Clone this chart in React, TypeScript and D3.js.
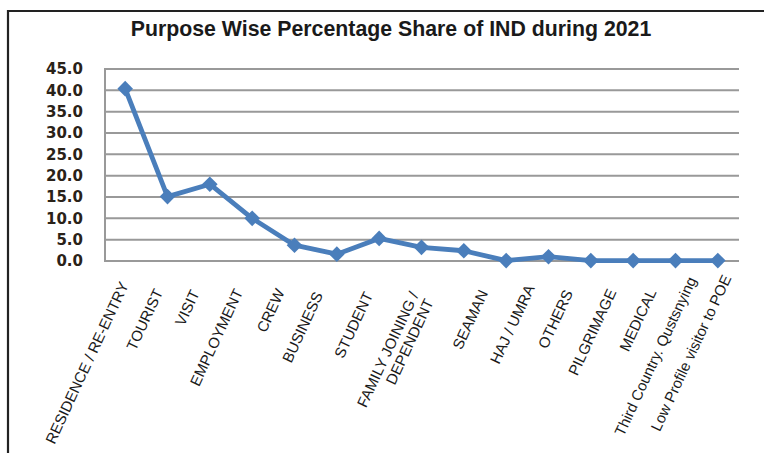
import React from "react";
import * as d3 from "d3";

const title = "Purpose Wise Percentage Share of IND during 2021";
const categories: string[][] = [
  ["RESIDENCE / RE-ENTRY"],
  ["TOURIST"],
  ["VISIT"],
  ["EMPLOYMENT"],
  ["CREW"],
  ["BUSINESS"],
  ["STUDENT"],
  ["FAMILY JOINING /", "DEPENDENT"],
  ["SEAMAN"],
  ["HAJ / UMRA"],
  ["OTHERS"],
  ["PILGRIMAGE"],
  ["MEDICAL"],
  ["Third Country. Qustsnying"],
  ["Low Profile visitor to POE"],
];
const values = [40.4, 15.1, 18.0, 10.0, 3.7, 1.6, 5.3, 3.2, 2.4, 0.1, 1.0, 0.1, 0.1, 0.1, 0.1];
const yTicks = [0, 5, 10, 15, 20, 25, 30, 35, 40, 45];

// layout nudges for the rotated category labels (text placement only)
const labelDx = [3.8, -4.2, -9.9, -8.9, -9.5, -13.6, -5.9, -2.5, 24.4, 28.8, 24.8, 25.8, 23.5, 21.2, 13.8];
const labelY = [285, 292, 293, 292, 292, 295, 295, 295, 293, 288, 293, 292, 292, 280, 278];

const W = 764;
const H = 453;
const plot = { left: 104, right: 739, top: 69, bottom: 261 };
const BLUE = "#4a7ebb";

export default function App() {
  const idx = categories.map((_, i) => i);
  const x = d3
    .scaleBand<number>()
    .domain(idx)
    .range([plot.left, plot.right])
    .padding(0);
  const cx = (i: number) => (x(i) as number) + x.bandwidth() / 2;
  const y = d3.scaleLinear().domain([0, 45]).range([plot.bottom, plot.top]);

  const line = d3
    .line<number>()
    .x((_, i) => cx(i))
    .y((d) => y(d));
  const diamond = d3.symbol().type(d3.symbolSquare).size(122)() as string;

  return (
    <svg
      width={W}
      height={H}
      viewBox={`0 0 ${W} ${H}`}
      style={{ position: "absolute", left: 0, top: 0, background: "#fff" }}
    >
      {/* outer frame */}
      <path d={`M8,${H} L8,11 L${W},11`} fill="none" stroke="#222" strokeWidth={2.2} />
      <text
        x={391}
        y={36}
        textAnchor="middle"
        fontFamily="'Liberation Sans', Arial, sans-serif"
        fontWeight="bold"
        fontSize={21.3}
        fill="#1a1a1a"
      >
        {title}
      </text>

      {/* gridlines */}
      {yTicks.map((t) => (
        <line
          key={t}
          x1={plot.left}
          x2={plot.right}
          y1={y(t)}
          y2={y(t)}
          stroke="#999"
          strokeWidth={2}
        />
      ))}
      <line x1={plot.left + 1} x2={plot.left + 1} y1={y(45)} y2={y(0)} stroke="#999" strokeWidth={2} />

      {/* y tick labels */}
      {yTicks.map((t) => (
        <text
          key={t}
          x={83}
          y={y(t)}
          dy="0.36em"
          textAnchor="end"
          fontFamily="'DejaVu Sans', Verdana, sans-serif"
          fontWeight="bold"
          fontSize={15}
          fill="#2a2218"
        >
          {t.toFixed(1)}
        </text>
      ))}

      {/* series line */}
      <path d={line(values) as string} fill="none" stroke={BLUE} strokeWidth={4.8} strokeLinejoin="round" />
      {values.map((v, i) => (
        <path
          key={i}
          d={diamond}
          transform={`translate(${cx(i)},${y(v)}) rotate(45)`}
          fill={BLUE}
        />
      ))}

      {/* category labels */}
      {categories.map((lines, i) => (
        <text
          key={i}
          transform={`translate(${cx(i) + labelDx[i]},${labelY[i]}) rotate(-65)`}
          textAnchor="end"
          fontFamily="'Liberation Sans', Arial, sans-serif"
          fontSize={15}
          fill="#1a1a1a"
        >
          {lines.map((l, j) => (
            <tspan key={j} x={0} dy={j === 0 ? 0 : "1.1em"}>
              {l}
            </tspan>
          ))}
        </text>
      ))}
    </svg>
  );
}
